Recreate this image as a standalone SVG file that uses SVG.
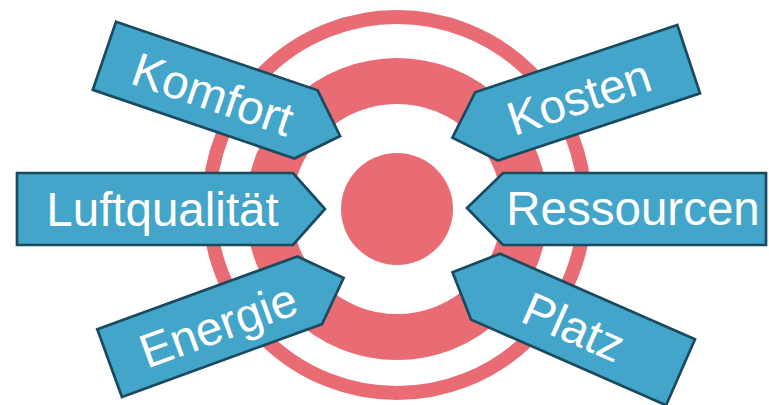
<svg xmlns="http://www.w3.org/2000/svg" width="769" height="405" viewBox="0 0 769 405">
<style>
.ring{fill:none;stroke:#E96C74}
.dot{fill:#E96C74}
.arrow{fill:#43A5C9;stroke:#1A4A5E;stroke-width:2.7;stroke-linejoin:miter}
.lbl{fill:#FFFFFF;font-family:"Liberation Sans",Arial,sans-serif;font-size:47.5px;text-anchor:middle}
</style>
<defs>
<polygon id="pr" points="0,0 213,0 249,36 213,72 0,72"/>
<polygon id="pl" points="0,0 -213,0 -249,36 -213,72 0,72"/>
</defs>
<g id="target">
<circle class="ring" cx="397" cy="205" r="188" stroke-width="14"/>
<circle class="ring" cx="397" cy="209" r="128" stroke-width="46"/>
<circle class="dot" cx="397" cy="209" r="56"/>
</g>
<g id="connectors"></g>
<g id="komfort" transform="translate(116,21.7) rotate(18.8)">
<use href="#pr" class="arrow"/>
<text class="lbl" x="115" y="54">Komfort</text>
</g>
<g id="kosten" transform="translate(677.3,25) rotate(-18.4)">
<use href="#pl" class="arrow"/>
<text class="lbl" x="-116" y="54">Kosten</text>
</g>
<g id="luftqualitaet">
<polygon class="arrow" points="17,173 293,173 325,209 293,245 17,245"/>
<text class="lbl" x="162.5" y="225.5">Luftqualität</text>
</g>
<g id="ressourcen">
<polygon class="arrow" points="766,173 503,173 467,208 503,245 766,245"/>
<text class="lbl" x="633" y="224.5">Ressourcen</text>
</g>
<g id="energie" transform="translate(97.3,329.3) rotate(-20)">
<use href="#pr" class="arrow"/>
<text class="lbl" x="115" y="54">Energie</text>
</g>
<g id="platz" transform="translate(695,339.3) rotate(23.7)">
<use href="#pl" class="arrow"/>
<text class="lbl" x="-116" y="54">Platz</text>
</g>
</svg>
